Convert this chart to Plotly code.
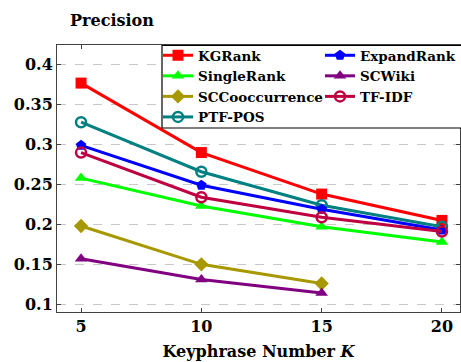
import plotly.graph_objects as go

# Keyphrase counts on the x axis
k_values = [5, 10, 15, 20]

# Precision per method
kgrank = [0.377, 0.290, 0.238, 0.205]
expandrank = [0.299, 0.249, 0.219, 0.193]
singlerank = [0.258, 0.223, 0.197, 0.178]
scwiki = [0.157, 0.131, 0.114]
sccooccurrence = [0.198, 0.150, 0.126]
tfidf = [0.290, 0.234, 0.209, 0.191]
ptfpos = [0.328, 0.266, 0.224, 0.197]

y_ticks = [0.1, 0.15, 0.2, 0.25, 0.3, 0.35, 0.4]
y_tick_labels = ["0.1", "0.15", "0.2", "0.25", "0.3", "0.35", "0.4"]

FONT = "DejaVu Serif"

# name, values, colour, marker symbol, open marker?, legend column
series = [
    ("KGRank", kgrank, "#ff0000", "square", False, "legend"),
    ("SingleRank", singlerank, "#00ff00", "triangle-up", False, "legend"),
    ("SCCooccurrence", sccooccurrence, "#a89800", "diamond", False, "legend"),
    ("PTF-POS", ptfpos, "#008080", "circle-open", True, "legend"),
    ("ExpandRank", expandrank, "#0000ff", "pentagon", False, "legend2"),
    ("SCWiki", scwiki, "#800080", "triangle-up", False, "legend2"),
    ("TF-IDF", tfidf, "#bf0040", "circle-open", True, "legend2"),
]

# plot area in pixels, used to place the legend frame
L, T, W, H = 57, 45, 403, 267


def px_x(px):
    return (px - L) / W


def px_y(py):
    return 1 - (py - T) / H


fig = go.Figure()
for name, vals, color, symbol, is_open, leg in series:
    marker = dict(symbol=symbol, size=11 if not is_open else 10, color=color)
    if is_open:
        marker["line"] = dict(width=2.5, color=color)
    fig.add_trace(go.Scatter(
        x=k_values[:len(vals)], y=vals, name=name, mode="lines+markers",
        line=dict(color=color, width=3), marker=marker, legend=leg,
    ))

legend_font = dict(family=FONT, size=13.5, color="black", weight="bold")
common_legend = dict(
    orientation="v", xanchor="left", yanchor="top",
    bgcolor="rgba(0,0,0,0)", borderwidth=0,
    font=legend_font, itemwidth=30, tracegroupgap=0,
)

fig.update_layout(
    width=461, height=362,
    margin=dict(l=L, r=461 - L - W, t=T, b=362 - T - H, autoexpand=False),
    plot_bgcolor="white", paper_bgcolor="white",
    font=dict(family=FONT, size=16, color="black", weight="bold"),
    showlegend=True,
    legend=dict(x=px_x(158), y=px_y(40), **common_legend),
    legend2=dict(x=px_x(320), y=px_y(40), **common_legend),
    shapes=[dict(
        type="rect", xref="paper", yref="paper",
        x0=px_x(162), x1=px_x(470), y0=px_y(128), y1=px_y(45.5),
        line=dict(color="black", width=1.2), fillcolor="white", layer="above",
    )],
    annotations=[dict(
        text="Precision", xref="paper", yref="paper", x=px_x(68), y=px_y(20),
        xanchor="left", yanchor="middle", showarrow=False,
        font=dict(family=FONT, size=16, color="black", weight="bold"),
    )],
)

fig.update_xaxes(
    range=[4.0, 20.75], tickvals=k_values, ticktext=[str(k) for k in k_values],
    showgrid=False, zeroline=False,
    showline=True, linecolor="#404040", linewidth=1, mirror="ticks",
    ticks="inside", ticklen=4, tickcolor="#404040",
    title=dict(text="Keyphrase Number <i>K</i>", standoff=10,
               font=dict(family=FONT, size=16, color="black", weight="bold")),
)
fig.update_yaxes(
    range=[0.0903, 0.4247], tickvals=y_ticks, ticktext=y_tick_labels,
    showgrid=True, gridcolor="#c8c8c8", griddash="dash", gridwidth=1,
    zeroline=False,
    showline=True, linecolor="#404040", linewidth=1, mirror="ticks",
    ticks="inside", ticklen=4, tickcolor="#404040",
)

fig.write_html("out.html")
